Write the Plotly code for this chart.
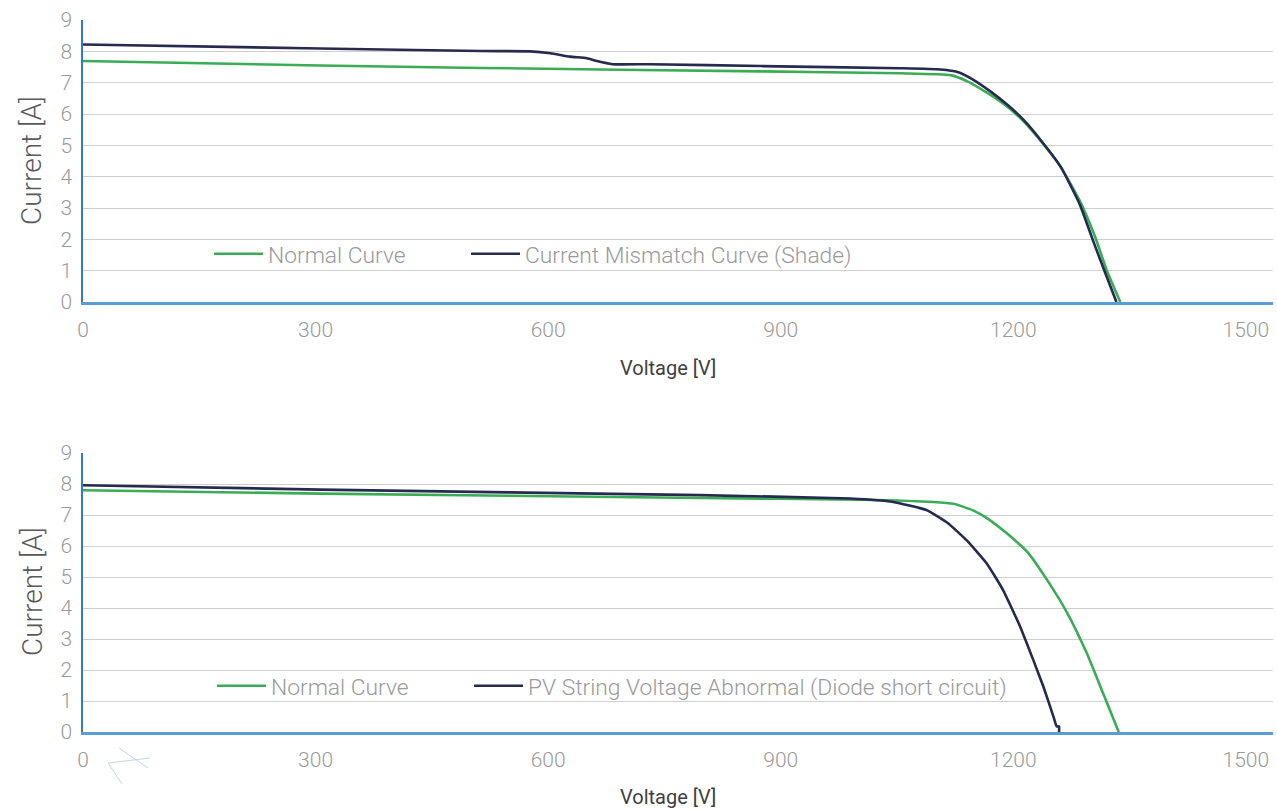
import plotly.graph_objects as go
from plotly.subplots import make_subplots

# ---------------- data ----------------
top_normal_v = [0, 306, 512, 874, 1054, 1119, 1140, 1166, 1192, 1213, 1239, 1261, 1286, 1306, 1321, 1338]
top_normal_i = [7.69, 7.55, 7.47, 7.36, 7.30, 7.24, 7.05, 6.68, 6.24, 5.77, 5.03, 4.32, 3.22, 2.05, 0.98, 0.0]

top_shade_v = [0, 306, 512, 577, 603, 628, 650, 663, 683, 732, 874, 1054, 1106, 1128, 1148, 1170, 1192,
               1213, 1235, 1261, 1286, 1303, 1319, 1333]
top_shade_i = [8.22, 8.09, 8.01, 8.00, 7.94, 7.83, 7.78, 7.69, 7.59, 7.59, 7.53, 7.46, 7.42, 7.34, 7.10,
               6.73, 6.30, 5.82, 5.18, 4.32, 3.10, 1.95, 0.90, 0.0]

bot_normal_v = [0, 306, 796, 1003, 1097, 1123, 1148, 1166, 1192, 1218, 1244, 1270, 1295, 1316, 1336]
bot_normal_i = [7.80, 7.69, 7.55, 7.49, 7.42, 7.36, 7.15, 6.90, 6.40, 5.81, 4.89, 3.82, 2.53, 1.24, 0.0]

bot_diode_v = [0, 306, 796, 990, 1045, 1089, 1115, 1140, 1166, 1187, 1209, 1226, 1239, 1252, 1256, 1259, 1259]
bot_diode_i = [7.96, 7.82, 7.64, 7.53, 7.42, 7.15, 6.75, 6.18, 5.43, 4.57, 3.39, 2.31, 1.45, 0.48, 0.18, 0.18, 0.0]

x_ticks = [0, 300, 600, 900, 1200, 1500]
y_ticks = [0, 1, 2, 3, 4, 5, 6, 7, 8, 9]

GREEN = "#3aac55"
NAVY = "#262a4f"

W, H = 1277, 811
ML, MR, MT, MB = 83, 4, 20, 79
PW = W - ML - MR
PH = H - MT - MB


def px_x(px):
    return (px - ML) / PW


def px_y(py):
    return (H - MB - py) / PH


fig = make_subplots(rows=2, cols=1, vertical_spacing=0.2)

LINE = dict(width=2.6, shape="spline", smoothing=0.5)
fig.add_trace(go.Scatter(x=top_normal_v, y=top_normal_i, mode="lines", name="Normal Curve",
                         line=dict(color=GREEN, **LINE), legend="legend"), row=1, col=1)
fig.add_trace(go.Scatter(x=top_shade_v, y=top_shade_i, mode="lines", name="Current Mismatch Curve (Shade)",
                         line=dict(color=NAVY, **LINE), legend="legend2"), row=1, col=1)
fig.add_trace(go.Scatter(x=bot_normal_v, y=bot_normal_i, mode="lines", name="Normal Curve",
                         line=dict(color=GREEN, **LINE), legend="legend3"), row=2, col=1)
fig.add_trace(go.Scatter(x=bot_diode_v, y=bot_diode_i, mode="lines",
                         name="PV String Voltage Abnormal (Diode short circuit)",
                         line=dict(color=NAVY, width=2.6, shape="spline", smoothing=0.4),
                         legend="legend4"), row=2, col=1)

FONT = "Roboto"
top_dom = [px_y(302), 1.0]
bot_dom = [0.0, px_y(453)]

xaxis_common = dict(range=[0, 1535], tickvals=x_ticks, showgrid=False, zeroline=False,
                    showline=True, linecolor="#5b9bd5", linewidth=2.5,
                    ticks="", ticklabelstandoff=7,
                    tickfont=dict(family=FONT, size=21, color="#9a9a9a", weight=300))
yaxis_common = dict(range=[0, 9], tickvals=y_ticks, showgrid=True, gridcolor="#cfcfcf", gridwidth=1,
                    zeroline=False, showline=True, linecolor="#2e7bcf", linewidth=1.5,
                    ticks="", ticklabelstandoff=5,
                    tickfont=dict(family=FONT, size=21, color="#9a9a9a", weight=300))

fig.update_xaxes(**xaxis_common)
fig.update_yaxes(**yaxis_common)
fig.update_layout(yaxis=dict(domain=top_dom), yaxis2=dict(domain=bot_dom))

legend_common = dict(orientation="h", xanchor="left", yanchor="middle", bgcolor="rgba(0,0,0,0)",
                     itemwidth=49,
                     font=dict(family=FONT, size=22.8, color="#9a9a9a", weight=300))
fig.update_layout(
    legend=dict(x=px_x(209), y=px_y(254), **legend_common),
    legend2=dict(x=px_x(466), y=px_y(254), **legend_common),
    legend3=dict(x=px_x(212), y=px_y(686), **legend_common),
    legend4=dict(x=px_x(469), y=px_y(686), **legend_common),
)

annotations = []
for cy in (161, 592):
    annotations.append(dict(text="Current [A]", x=px_x(32), y=px_y(cy), xref="paper", yref="paper",
                            showarrow=False, textangle=-90, xanchor="center", yanchor="middle",
                            font=dict(family=FONT, size=28, color="#595959", weight=300)))
for cy in (368, 797):
    annotations.append(dict(text="Voltage [V]", x=px_x(668), y=px_y(cy), xref="paper", yref="paper",
                            showarrow=False, xanchor="center", yanchor="middle",
                            font=dict(family=FONT, size=20, color="#404040")))

# faint stray strokes present below the lower chart in the reference image
stray = [((119, 748), (148, 768)), ((108, 763), (150, 758)), ((108, 763), (122, 784))]
shapes = []
for (x0, y0), (x1, y1) in stray:
    shapes.append(dict(type="line", xref="paper", yref="paper", x0=px_x(x0), y0=px_y(y0),
                       x1=px_x(x1), y1=px_y(y1), line=dict(color="#c5d5ea", width=1)))

fig.update_layout(
    width=W, height=H, autosize=False,
    margin=dict(l=ML, r=MR, t=MT, b=MB),
    paper_bgcolor="white", plot_bgcolor="white",
    showlegend=True,
    annotations=annotations,
    shapes=shapes,
)

fig.write_html("out.html", config={"displayModeBar": False},
               post_script="document.body.style.margin='0';document.body.style.overflow='hidden';")
